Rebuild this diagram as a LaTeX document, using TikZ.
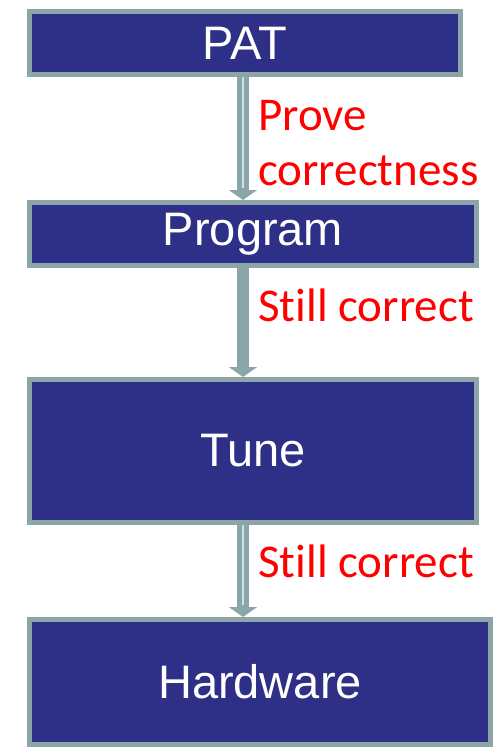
\documentclass[tikz,border=0pt]{standalone}
\usepackage{fontspec}
\setmainfont{Liberation Sans}
\newfontfamily\labelfont[Ligatures=NoCommon]{Carlito}
\usepackage{tikz}
\usetikzlibrary{arrows.meta}
\definecolor{boxblue}{RGB}{46,48,135}
\definecolor{boxrim}{RGB}{140,165,168}
\definecolor{pipecore}{RGB}{200,230,230}
\tikzstyle{graph}=[x=1pt, y=-1pt]
\tikzstyle{box}=[rectangle, draw=boxrim, line width=5pt, fill=boxblue, text=white, inner sep=0pt, font=\fontsize{47}{55}\selectfont]
\tikzstyle{edge}=[draw=boxrim, line width=12pt, -{Triangle[width=28pt, length=10pt]}]
\tikzstyle{core}=[draw=pipecore, line width=2pt, shorten >=12pt]
\tikzstyle{edgeLabel}=[red, inner sep=0pt, align=left, font=\labelfont\fontsize{47}{55}\selectfont]

\begin{document}
\begin{tikzpicture}[graph]
	\useasboundingbox (0,0) rectangle (495,747);
	\draw (245,43) node[box, minimum width=431pt, minimum height=63pt] (pat) {PAT};
	\draw (253,234) node[box, minimum width=447pt, minimum height=63pt] (prog) {Program};
	\draw (253,451) node[box, minimum width=447pt, minimum height=143pt] (tune) {Tune};
	\draw (260,682) node[box, minimum width=461pt, minimum height=125pt] (hw) {Hardware};
	\coordinate (ax) at (243,0);
	\draw[edge] (pat.south -| ax) -- (prog.north -| ax);
	\draw[core] (pat.south -| ax) -- (prog.north -| ax);
	\draw[edge] (prog.south -| ax) -- (tune.north -| ax);
	\draw[edge] (tune.south -| ax) -- (hw.north -| ax);
	\draw[core] (tune.south -| ax) -- (hw.north -| ax);
	\draw (258,100) node[edgeLabel, anchor=north west] (l1) {Prove\\correctness};
	\draw (258,321) node[edgeLabel, anchor=base west] (l2) {Still correct};
	\draw (258,577) node[edgeLabel, anchor=base west] (l3) {Still correct};
\end{tikzpicture}
\end{document}
